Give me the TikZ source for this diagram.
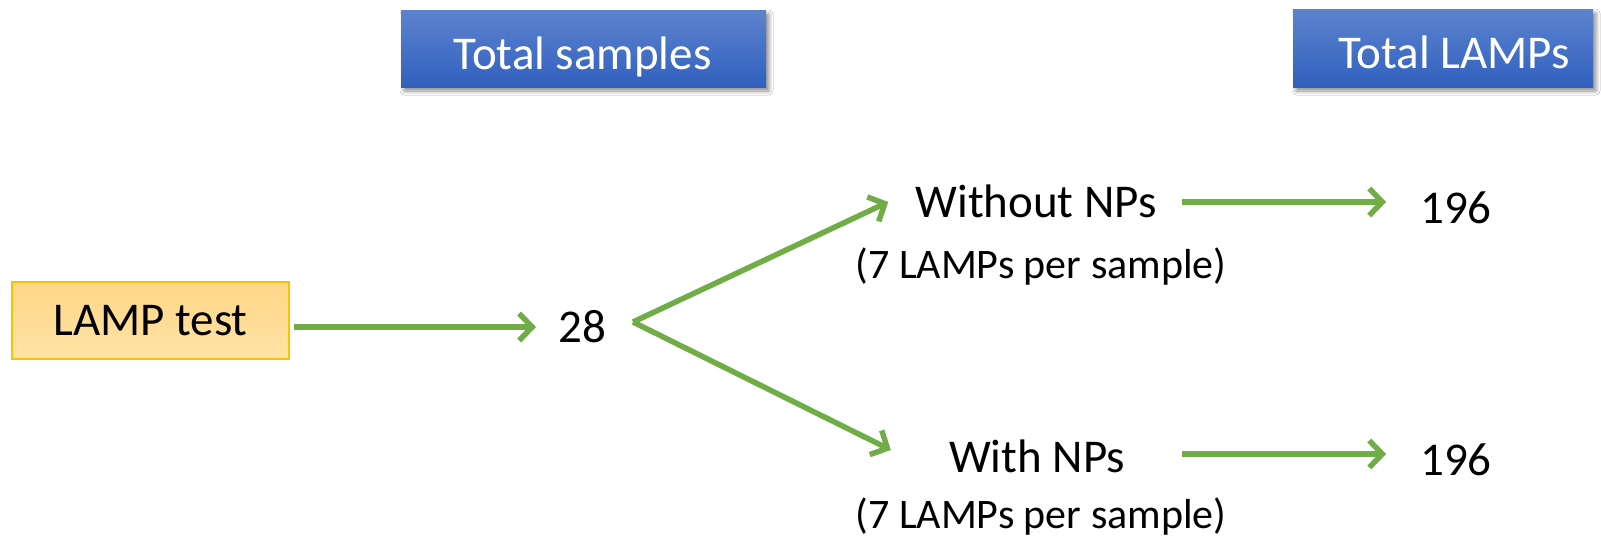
\documentclass[tikz,border=0pt]{standalone}
\usepackage{fontspec}
\setmainfont{Carlito}
\usetikzlibrary{arrows.meta,shadows.blur}
\definecolor{arrowgreen}{HTML}{70AD47}
\definecolor{blueTop}{RGB}{93,131,207}
\definecolor{blueBot}{RGB}{48,96,190}
\definecolor{lampTop}{RGB}{255,214,135}
\definecolor{lampBot}{RGB}{255,227,165}
\definecolor{lampBorder}{HTML}{FFC000}
\tikzset{
  lbl/.style={font=\fontsize{47}{56}\selectfont, inner sep=0pt, text height=30pt, text depth=0pt},
  sublbl/.style={font=\fontsize{42}{50}\selectfont, inner sep=0pt, anchor=base},
  titlebox/.style={draw=none, top color=blueTop, bottom color=blueBot, inner sep=0pt,
    blur shadow={shadow xshift=3pt, shadow yshift=-4pt, shadow blur radius=4pt, shadow opacity=45}},
  titletext/.style={lbl, text=white},
  lampbox/.style={lbl, draw=lampBorder, line width=1.5pt, top color=lampTop, bottom color=lampBot,
    minimum width=277pt, minimum height=77pt},
  flow/.style={draw=arrowgreen, line width=5.5pt, -{Straight Barb[length=13pt,width=27pt,line width=5.5pt]}}
}
\begin{document}
\begin{tikzpicture}[x=1pt,y=-1pt]
\useasboundingbox (0,0) rectangle (1601,536);
\fill[white] (0,0) rectangle (1601,536);
% title boxes
\node[titlebox, minimum width=365pt, minimum height=77pt] (tsbox) at (583.5,48.5) {};
\node[titletext] (ts) at (582.5,54.5) {Total samples};
\node[titlebox, minimum width=300pt, minimum height=78pt] (tlbox) at (1443,48) {};
\node[titletext] (tl) at (1454,53) {Total LAMPs};
% nodes
\node[lampbox] (lamp) at (150.5,320.5) {LAMP test};
\node[lbl] (n28) at (582,327) {28};
\coordinate (split) at (633,322);
\node[lbl] (wo) at (1036,202) {Without NPs};
\node[sublbl] (wosub) at (1041,278) {(7 LAMPs per sample)};
\node[lbl] (wi) at (1037,457) {With NPs};
\node[sublbl] (wisub) at (1041,528) {(7 LAMPs per sample)};
\node[lbl] (ra) at (1456,208) {196};
\node[lbl] (rb) at (1456,460) {196};
% connectors
\draw[flow, shorten <=4pt, shorten >=22pt] (lamp.east |- n28) -- (n28.west);
\draw[flow] (split) -- ([xshift=-27pt]wo.west);
\draw[flow] (split) -- ([xshift=-58pt,yshift=7pt]wi.west);
\draw[flow, shorten <=25pt, shorten >=34pt] (wo.east) -- (wo.east -| ra.west);
\draw[flow, shorten <=25pt, shorten >=34pt] ([yshift=3pt]wi.east -| wo.east) -- ([yshift=3pt]wi.east -| rb.west);
\end{tikzpicture}
\end{document}
